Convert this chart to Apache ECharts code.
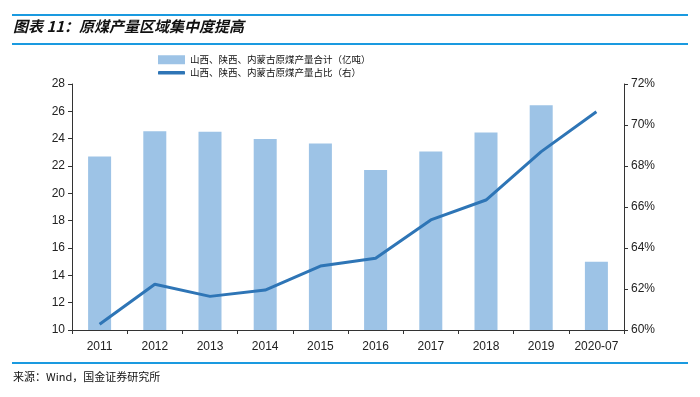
<!DOCTYPE html>
<html><head><meta charset="utf-8">
<script src="https://cdn.jsdelivr.net/npm/echarts@6/dist/echarts.min.js"></script>
<style>html,body{margin:0;padding:0;background:#fff;}#c{width:700px;height:397px;}</style>
</head><body><div id="c"></div>
<script>
const categories = ['2011','2012','2013','2014','2015','2016','2017','2018','2019','2020-07'];
const outputTotal = [22.7, 24.55, 24.5, 23.97, 23.65, 21.7, 23.07, 24.45, 26.45, 15.0];
const shareRatio = [60.28, 62.23, 61.64, 61.95, 63.12, 63.5, 65.37, 66.34, 68.7, 70.65];
const leftTicks = {min: 10, max: 28, interval: 2};
const rightTicks = {min: 60, max: 72, interval: 2};
const titleText = '图表 11：原煤产量区域集中度提高';
const sourceText = '来源：Wind，国金证券研究所';
const barName = '山西、陕西、内蒙古原煤产量合计（亿吨）';
const lineName = '山西、陕西、内蒙古原煤产量占比（右）';

const chart = echarts.init(document.getElementById('c'), null, {renderer: 'canvas'});
const axisFont = {fontFamily: 'Liberation Sans, Arial', fontSize: 12, color: '#222'};
const legendText = {fontFamily: 'Noto Sans CJK SC', fontSize: 9.5, color: '#111'};
chart.setOption({
  animation: false,
  backgroundColor: '#fff',
  graphic: [
    {type: 'rect', shape: {x: 12, y: 14, width: 676, height: 2}, style: {fill: '#1a9ae0'}},
    {type: 'rect', shape: {x: 12, y: 43, width: 676, height: 2}, style: {fill: '#1a9ae0'}},
    {type: 'rect', shape: {x: 12, y: 362, width: 676, height: 2}, style: {fill: '#1a9ae0'}},
    {type: 'text', left: 13, top: 19, style: {text: titleText, font: 'italic bold 15px "Noto Sans CJK SC"', fill: '#111'}},
    {type: 'text', left: 13, top: 371, style: {text: sourceText, font: '11px "Noto Sans CJK SC"', fill: '#111'}}
  ],
  legend: [
    {left: 158, top: 55, padding: 0, itemWidth: 27, itemHeight: 9, itemGap: 4,
     textStyle: legendText, data: [{name: barName, icon: 'rect'}]},
    {left: 158, top: 68, padding: 0, itemWidth: 27, itemHeight: 3.5, itemGap: 4,
     textStyle: legendText, data: [{name: lineName, icon: 'roundRect'}]}
  ],
  grid: {left: 72, right: 76, top: 84, bottom: 67},
  xAxis: {
    type: 'category', data: categories,
    axisLine: {lineStyle: {color: '#333', width: 1}},
    axisTick: {show: true, lineStyle: {color: '#333'}, length: 4},
    axisLabel: Object.assign({margin: 11, interval: 0}, axisFont)
  },
  yAxis: [
    {type: 'value', min: leftTicks.min, max: leftTicks.max, interval: leftTicks.interval,
     axisLine: {show: true, lineStyle: {color: '#333'}},
     axisTick: {show: true, length: 4, lineStyle: {color: '#333'}},
     splitLine: {show: false},
     axisLabel: Object.assign({margin: 7}, axisFont)},
    {type: 'value', min: rightTicks.min, max: rightTicks.max, interval: rightTicks.interval,
     position: 'right',
     axisLine: {show: true, lineStyle: {color: '#333'}},
     axisTick: {show: true, length: 4, lineStyle: {color: '#333'}},
     splitLine: {show: false},
     axisLabel: Object.assign({margin: 7, formatter: v => v + '%'}, axisFont)}
  ],
  series: [
    {name: barName, type: 'bar', data: outputTotal, barWidth: 23, yAxisIndex: 0,
     itemStyle: {color: '#9dc3e6'}},
    {name: lineName, type: 'line', data: shareRatio, yAxisIndex: 1,
     symbol: 'none', showSymbol: false, smooth: false,
     lineStyle: {color: '#2e75b6', width: 3},
     itemStyle: {color: '#2e75b6'}}
  ]
});
</script></body></html>
